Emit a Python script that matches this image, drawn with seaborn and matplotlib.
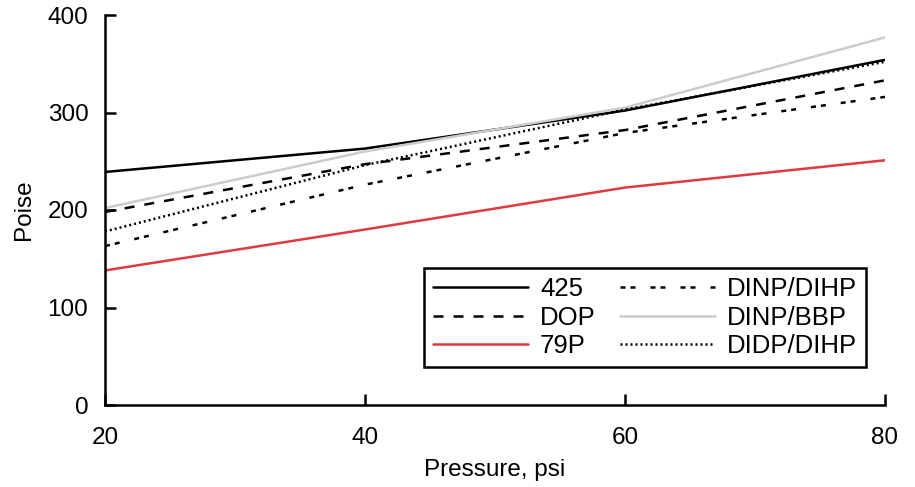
import matplotlib
matplotlib.use("Agg")
import matplotlib.pyplot as plt
import seaborn as sns
import pandas as pd

# --------------------------------
# DATA
# --------------------------------

pressure = [20, 40, 60, 80]

series_names = ["425", "DOP", "79P", "DINP/DIHP", "DINP/BBP", "DIDP/DIHP"]

p425 = [239, 263, 302, 354]
dop = [198, 247, 282, 333]
p79 = [138, 180, 223, 251]
dinp_dihp = [163, 226, 279, 316]
dinp_bbp = [202, 260, 305, 377]
didp_dihp = [178, 246, 303, 352]

x_ticks = [20, 40, 60, 80]
y_ticks = [0, 100, 200, 300, 400]

# --------------------------------
# STYLE
# --------------------------------

sns.set_style("ticks", {
    "axes.edgecolor": "black",
    "xtick.color": "black",
    "ytick.color": "black",
    "text.color": "black",
    "axes.labelcolor": "black",
})
plt.rcParams["font.family"] = ["Liberation Sans", "DejaVu Sans"]

colors = {
    "425": "#000000",
    "DOP": "#000000",
    "79P": "#e0393e",
    "DINP/DIHP": "#000000",
    "DINP/BBP": "#cccccc",
    "DIDP/DIHP": "#000000",
}

dashes = {
    "425": "",
    "DOP": (4, 4),
    "79P": "",
    "DINP/DIHP": (2, 2, 2, 6),
    "DINP/BBP": "",
    "DIDP/DIHP": (0.8, 1.2),
}

values = [p425, dop, p79, dinp_dihp, dinp_bbp, didp_dihp]
df = pd.concat(
    [pd.DataFrame({"pressure": pressure, "poise": v, "series": name})
     for name, v in zip(series_names, values)],
    ignore_index=True,
)

# --------------------------------
# PLOT
# --------------------------------

fig = plt.figure(figsize=(9.15, 4.87), dpi=100)
ax = fig.add_axes([105 / 915, 1 - 405 / 487, 780 / 915, 390 / 487])

sns.lineplot(
    data=df,
    x="pressure",
    y="poise",
    hue="series",
    style="series",
    hue_order=series_names,
    style_order=series_names,
    palette=colors,
    dashes=dashes,
    linewidth=1.8,
    legend=False,
    ax=ax,
)

ax.set_xlim(20, 80)
ax.set_ylim(0, 400)
ax.set_xticks(x_ticks)
ax.set_yticks(y_ticks)
ax.tick_params(direction="in", length=8, width=1.8, labelsize=17.5)
ax.tick_params(axis="x", pad=16)
ax.tick_params(axis="y", pad=12)

sns.despine(ax=ax)
for side in ["left", "bottom"]:
    ax.spines[side].set_linewidth(1.8)

ax.set_xlabel("Pressure, psi", fontsize=17.5, labelpad=7)
ax.set_ylabel("Poise", fontsize=17.5, labelpad=9)

leg = ax.legend(
    ax.lines[:len(series_names)],
    series_names,
    ncol=2,
    loc="lower right",
    bbox_to_anchor=(0.9756, 0.0974),
    borderaxespad=0,
    fontsize=18.5,
    frameon=True,
    fancybox=False,
    handlelength=3.7,
    handletextpad=0.47,
    columnspacing=0.93,
    labelspacing=0.17,
    borderpad=0.35,
)
leg.get_frame().set_edgecolor("black")
leg.get_frame().set_linewidth(1.8)
leg.get_frame().set_alpha(1)

fig.savefig("out.png", dpi=100)
